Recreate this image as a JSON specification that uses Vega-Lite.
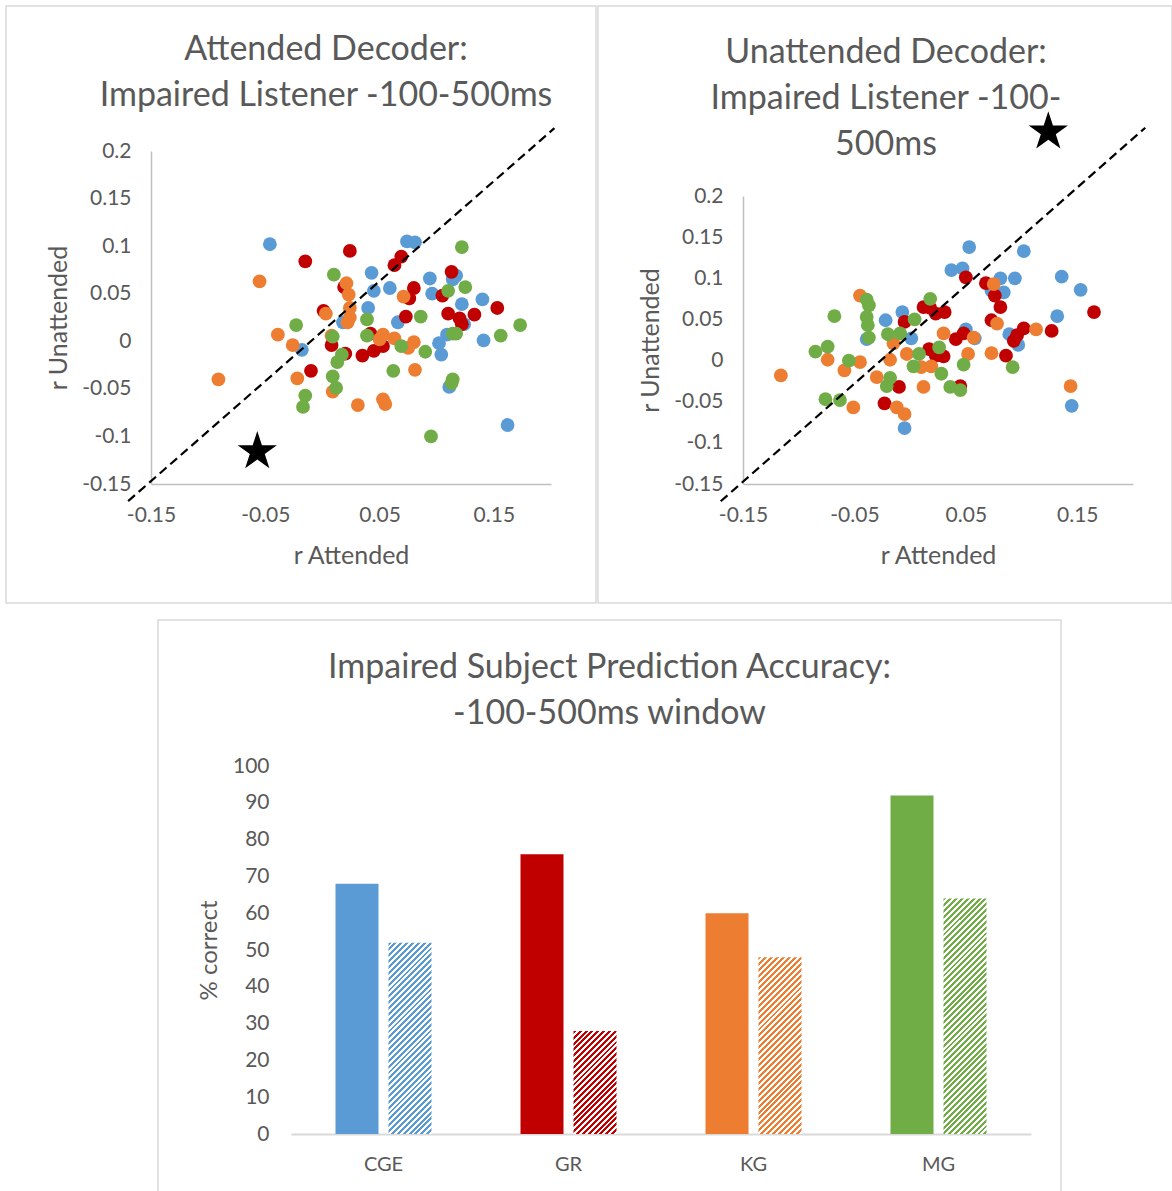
{
"$schema": "https://vega.github.io/schema/vega-lite/v6.json",
"background": "white",
"padding": {"left": 5, "top": 5, "right": 0, "bottom": 0},
"datasets": {
"attended": [
{"subject":"CGE","att":-0.046,"unatt":0.102},{"subject":"CGE","att":0.074,"unatt":0.105},{"subject":"CGE","att":0.081,"unatt":0.104},{"subject":"CGE","att":0.043,"unatt":0.072},{"subject":"CGE","att":0.045,"unatt":0.053},{"subject":"CGE","att":0.040,"unatt":0.035},{"subject":"CGE","att":0.059,"unatt":0.056},{"subject":"CGE","att":0.094,"unatt":0.066},{"subject":"CGE","att":0.096,"unatt":0.050},{"subject":"CGE","att":0.117,"unatt":0.069},{"subject":"CGE","att":0.114,"unatt":0.065},{"subject":"CGE","att":0.122,"unatt":0.039},{"subject":"CGE","att":0.124,"unatt":0.018},{"subject":"CGE","att":0.140,"unatt":0.044},{"subject":"CGE","att":0.141,"unatt":0.001},{"subject":"CGE","att":0.102,"unatt":-0.002},{"subject":"CGE","att":0.104,"unatt":-0.014},{"subject":"CGE","att":0.109,"unatt":0.007},{"subject":"CGE","att":0.066,"unatt":0.020},{"subject":"CGE","att":0.162,"unatt":-0.088},{"subject":"CGE","att":0.111,"unatt":-0.048},{"subject":"CGE","att":-0.018,"unatt":-0.009},{"subject":"CGE","att":0.018,"unatt":0.020},
{"subject":"GR","att":-0.015,"unatt":0.084},{"subject":"GR","att":0.024,"unatt":0.095},{"subject":"GR","att":0.063,"unatt":0.080},{"subject":"GR","att":0.069,"unatt":0.089},{"subject":"GR","att":0.080,"unatt":0.056},{"subject":"GR","att":0.076,"unatt":0.045},{"subject":"GR","att":0.105,"unatt":0.048},{"subject":"GR","att":0.113,"unatt":0.073},{"subject":"GR","att":0.153,"unatt":0.035},{"subject":"GR","att":0.133,"unatt":0.028},{"subject":"GR","att":0.110,"unatt":0.029},{"subject":"GR","att":0.120,"unatt":0.024},{"subject":"GR","att":0.122,"unatt":0.018},{"subject":"GR","att":0.073,"unatt":0.026},{"subject":"GR","att":0.001,"unatt":0.032},{"subject":"GR","att":0.019,"unatt":0.057},{"subject":"GR","att":0.008,"unatt":-0.004},{"subject":"GR","att":0.020,"unatt":-0.013},{"subject":"GR","att":-0.010,"unatt":-0.031},{"subject":"GR","att":0.035,"unatt":-0.015},{"subject":"GR","att":0.045,"unatt":-0.010},{"subject":"GR","att":0.053,"unatt":-0.005},{"subject":"GR","att":0.042,"unatt":0.008},
{"subject":"KG","att":-0.055,"unatt":0.063},{"subject":"KG","att":-0.091,"unatt":-0.040},{"subject":"KG","att":-0.039,"unatt":0.007},{"subject":"KG","att":-0.026,"unatt":-0.004},{"subject":"KG","att":-0.022,"unatt":-0.039},{"subject":"KG","att":0.021,"unatt":0.061},{"subject":"KG","att":0.023,"unatt":0.049},{"subject":"KG","att":0.024,"unatt":0.035},{"subject":"KG","att":0.022,"unatt":0.020},{"subject":"KG","att":0.003,"unatt":0.029},{"subject":"KG","att":0.008,"unatt":0.006},{"subject":"KG","att":0.009,"unatt":-0.053},{"subject":"KG","att":0.031,"unatt":-0.067},{"subject":"KG","att":0.053,"unatt":-0.061},{"subject":"KG","att":0.055,"unatt":-0.066},{"subject":"KG","att":0.050,"unatt":0.002},{"subject":"KG","att":0.053,"unatt":0.007},{"subject":"KG","att":0.063,"unatt":0.003},{"subject":"KG","att":0.071,"unatt":0.047},{"subject":"KG","att":0.075,"unatt":-0.007},{"subject":"KG","att":0.080,"unatt":-0.001},{"subject":"KG","att":0.081,"unatt":-0.030},{"subject":"KG","att":0.024,"unatt":0.025},
{"subject":"MG","att":0.010,"unatt":0.070},{"subject":"MG","att":-0.023,"unatt":0.017},{"subject":"MG","att":0.122,"unatt":0.099},{"subject":"MG","att":0.125,"unatt":0.057},{"subject":"MG","att":0.110,"unatt":0.053},{"subject":"MG","att":0.086,"unatt":0.026},{"subject":"MG","att":0.039,"unatt":0.023},{"subject":"MG","att":0.039,"unatt":0.006},{"subject":"MG","att":0.009,"unatt":0.005},{"subject":"MG","att":0.017,"unatt":-0.014},{"subject":"MG","att":0.013,"unatt":-0.022},{"subject":"MG","att":0.009,"unatt":-0.037},{"subject":"MG","att":0.012,"unatt":-0.049},{"subject":"MG","att":-0.015,"unatt":-0.057},{"subject":"MG","att":-0.017,"unatt":-0.069},{"subject":"MG","att":0.062,"unatt":-0.031},{"subject":"MG","att":0.069,"unatt":-0.005},{"subject":"MG","att":0.090,"unatt":-0.011},{"subject":"MG","att":0.114,"unatt":0.008},{"subject":"MG","att":0.117,"unatt":0.008},{"subject":"MG","att":0.114,"unatt":-0.040},{"subject":"MG","att":0.113,"unatt":-0.044},{"subject":"MG","att":0.156,"unatt":0.006},{"subject":"MG","att":0.173,"unatt":0.017},{"subject":"MG","att":0.095,"unatt":-0.100}
],
"unattended": [
{"subject":"CGE","att":0.053,"unatt":0.138},{"subject":"CGE","att":0.102,"unatt":0.133},{"subject":"CGE","att":0.037,"unatt":0.110},{"subject":"CGE","att":0.047,"unatt":0.112},{"subject":"CGE","att":0.081,"unatt":0.100},{"subject":"CGE","att":0.094,"unatt":0.100},{"subject":"CGE","att":0.073,"unatt":0.085},{"subject":"CGE","att":0.084,"unatt":0.083},{"subject":"CGE","att":0.136,"unatt":0.102},{"subject":"CGE","att":0.153,"unatt":0.086},{"subject":"CGE","att":0.132,"unatt":0.054},{"subject":"CGE","att":0.145,"unatt":-0.055},{"subject":"CGE","att":-0.007,"unatt":0.059},{"subject":"CGE","att":-0.022,"unatt":0.049},{"subject":"CGE","att":0.001,"unatt":0.027},{"subject":"CGE","att":-0.039,"unatt":0.026},{"subject":"CGE","att":-0.005,"unatt":-0.082},{"subject":"CGE","att":0.050,"unatt":0.038},{"subject":"CGE","att":0.058,"unatt":0.027},{"subject":"CGE","att":0.089,"unatt":0.032},{"subject":"CGE","att":0.097,"unatt":0.019},{"subject":"CGE","att":0.093,"unatt":0.030},
{"subject":"GR","att":0.050,"unatt":0.101},{"subject":"GR","att":0.068,"unatt":0.094},{"subject":"GR","att":0.076,"unatt":0.079},{"subject":"GR","att":0.081,"unatt":0.065},{"subject":"GR","att":0.073,"unatt":0.049},{"subject":"GR","att":0.165,"unatt":0.059},{"subject":"GR","att":0.127,"unatt":0.036},{"subject":"GR","att":0.102,"unatt":0.039},{"subject":"GR","att":0.096,"unatt":0.031},{"subject":"GR","att":0.093,"unatt":0.024},{"subject":"GR","att":0.086,"unatt":0.006},{"subject":"GR","att":0.012,"unatt":0.065},{"subject":"GR","att":0.018,"unatt":0.064},{"subject":"GR","att":0.031,"unatt":0.059},{"subject":"GR","att":0.023,"unatt":0.057},{"subject":"GR","att":-0.005,"unatt":0.047},{"subject":"GR","att":0.041,"unatt":0.026},{"subject":"GR","att":0.048,"unatt":0.033},{"subject":"GR","att":0.017,"unatt":0.014},{"subject":"GR","att":0.023,"unatt":0.006},{"subject":"GR","att":0.030,"unatt":0.005},{"subject":"GR","att":-0.010,"unatt":-0.032},{"subject":"GR","att":-0.023,"unatt":-0.052},{"subject":"GR","att":0.045,"unatt":-0.031},
{"subject":"KG","att":-0.116,"unatt":-0.018},{"subject":"KG","att":-0.045,"unatt":0.079},{"subject":"KG","att":-0.074,"unatt":0.001},{"subject":"KG","att":-0.059,"unatt":-0.012},{"subject":"KG","att":-0.045,"unatt":-0.002},{"subject":"KG","att":-0.051,"unatt":-0.057},{"subject":"KG","att":-0.030,"unatt":-0.020},{"subject":"KG","att":-0.018,"unatt":0.001},{"subject":"KG","att":-0.015,"unatt":0.021},{"subject":"KG","att":-0.012,"unatt":-0.057},{"subject":"KG","att":-0.005,"unatt":-0.065},{"subject":"KG","att":-0.003,"unatt":0.008},{"subject":"KG","att":0.010,"unatt":-0.008},{"subject":"KG","att":0.019,"unatt":-0.007},{"subject":"KG","att":0.012,"unatt":-0.032},{"subject":"KG","att":0.030,"unatt":0.033},{"subject":"KG","att":0.057,"unatt":0.028},{"subject":"KG","att":0.052,"unatt":0.008},{"subject":"KG","att":0.073,"unatt":0.009},{"subject":"KG","att":0.078,"unatt":0.045},{"subject":"KG","att":0.075,"unatt":0.093},{"subject":"KG","att":0.113,"unatt":0.038},{"subject":"KG","att":0.144,"unatt":-0.031},
{"subject":"MG","att":-0.068,"unatt":0.054},{"subject":"MG","att":-0.085,"unatt":0.011},{"subject":"MG","att":-0.074,"unatt":0.017},{"subject":"MG","att":-0.055,"unatt":0.000},{"subject":"MG","att":-0.076,"unatt":-0.047},{"subject":"MG","att":-0.063,"unatt":-0.048},{"subject":"MG","att":-0.039,"unatt":0.074},{"subject":"MG","att":-0.037,"unatt":0.067},{"subject":"MG","att":-0.039,"unatt":0.053},{"subject":"MG","att":-0.038,"unatt":0.043},{"subject":"MG","att":-0.037,"unatt":0.028},{"subject":"MG","att":-0.020,"unatt":0.032},{"subject":"MG","att":-0.009,"unatt":0.033},{"subject":"MG","att":0.004,"unatt":0.050},{"subject":"MG","att":0.018,"unatt":0.075},{"subject":"MG","att":0.008,"unatt":0.008},{"subject":"MG","att":0.003,"unatt":-0.007},{"subject":"MG","att":0.026,"unatt":0.016},{"subject":"MG","att":0.028,"unatt":-0.016},{"subject":"MG","att":-0.018,"unatt":-0.021},{"subject":"MG","att":-0.021,"unatt":-0.031},{"subject":"MG","att":0.036,"unatt":-0.032},{"subject":"MG","att":0.045,"unatt":-0.036},{"subject":"MG","att":0.048,"unatt":-0.005},{"subject":"MG","att":0.092,"unatt":-0.008}
],
"accuracy": [
{"subject":"CGE","kind":"solid","pct":68},{"subject":"CGE","kind":"hatched","pct":52},
{"subject":"GR","kind":"solid","pct":76},{"subject":"GR","kind":"hatched","pct":28},
{"subject":"KG","kind":"solid","pct":60},{"subject":"KG","kind":"hatched","pct":48},
{"subject":"MG","kind":"solid","pct":92},{"subject":"MG","kind":"hatched","pct":64}
]
},
"spacing": 15,
"vconcat": [
{"spacing": 2, "bounds": "flush", "hconcat": [
{
"width": 590, "height": 597,
"title": {"text": ["Attended Decoder:", "Impaired Listener -100-500ms"], "dx": 25, "dy": 111},
"encoding": {
"x": {"field": "att", "type": "quantitative", "scale": {"domain": [-0.15, 0.2], "range": [145, 545], "nice": false, "zero": false}, "axis": {"title": "r Attended", "values": [-0.15, -0.05, 0.05, 0.15], "labelExpr": "'' + datum.value", "offset": -119, "labelPadding": 20, "titlePadding": 18}},
"y": {"field": "unatt", "type": "quantitative", "scale": {"domain": [-0.15, 0.2], "range": [478, 145], "nice": false, "zero": false}, "axis": {"title": "r Unattended", "values": [-0.15, -0.1, -0.05, 0, 0.05, 0.1, 0.15, 0.2], "labelExpr": "'' + datum.value", "offset": -145, "labelPadding": 20, "titlePadding": 10}}
},
"layer": [
{"data": {"name": "attended"}, "mark": {"type": "circle", "size": 190, "opacity": 1}, "encoding": {"color": {"field": "subject", "type": "nominal", "scale": {"domain": ["CGE", "GR", "KG", "MG"], "range": ["#5B9BD5", "#C00000", "#ED7D31", "#70AD47"]}, "legend": null}}},
{"data": {"values": [{"att": -0.17, "unatt": -0.168}, {"att": 0.203, "unatt": 0.224}]}, "mark": {"type": "line", "color": "black", "strokeDash": [9, 5], "strokeWidth": 2.2}, "encoding": {}},
{"data": {"values": [{"att": -0.057, "unatt": -0.116}]}, "mark": {"type": "point", "shape": "M0,-1L0.2245,-0.309L0.951,-0.309L0.363,0.118L0.588,0.809L0,0.382L-0.588,0.809L-0.363,0.118L-0.951,-0.309L-0.2245,-0.309Z", "filled": true, "color": "black", "size": 1700, "opacity": 1}}
]
},
{
"width": 574, "height": 597,
"title": {"text": ["Unattended Decoder:", "Impaired Listener -100-", "500ms"], "dx": 1, "dy": 160},
"encoding": {
"x": {"field": "att", "type": "quantitative", "scale": {"domain": [-0.15, 0.2], "range": [145, 535], "nice": false, "zero": false}, "axis": {"title": "r Attended", "values": [-0.15, -0.05, 0.05, 0.15], "labelExpr": "'' + datum.value", "offset": -119, "labelPadding": 20, "titlePadding": 18}},
"y": {"field": "unatt", "type": "quantitative", "scale": {"domain": [-0.15, 0.2], "range": [478, 190], "nice": false, "zero": false}, "axis": {"title": "r Unattended", "values": [-0.15, -0.1, -0.05, 0, 0.05, 0.1, 0.15, 0.2], "labelExpr": "'' + datum.value", "offset": -145, "labelPadding": 20, "titlePadding": 10}}
},
"layer": [
{"data": {"name": "unattended"}, "mark": {"type": "circle", "size": 190, "opacity": 1}, "encoding": {"color": {"field": "subject", "type": "nominal", "scale": {"domain": ["CGE", "GR", "KG", "MG"], "range": ["#5B9BD5", "#C00000", "#ED7D31", "#70AD47"]}, "legend": null}}},
{"data": {"values": [{"att": -0.17, "unatt": -0.171}, {"att": 0.211, "unatt": 0.283}]}, "mark": {"type": "line", "color": "black", "strokeDash": [9, 5], "strokeWidth": 2.2}, "encoding": {}},
{"data": {"values": [{"att": 0.124, "unatt": 0.278}]}, "mark": {"type": "point", "shape": "M0,-1L0.2245,-0.309L0.951,-0.309L0.363,0.118L0.588,0.809L0,0.382L-0.588,0.809L-0.363,0.118L-0.951,-0.309L-0.2245,-0.309Z", "filled": true, "color": "black", "size": 1700, "opacity": 1}}
]
}
]},
{"spacing": 10, "bounds": "flush", "hconcat": [
{"width": 142, "height": 10, "data": {"values": [{}]}, "mark": {"type": "point", "opacity": 0}, "view": {"stroke": null}},
{
"width": 903, "height": 573,
"data": {"name": "accuracy"},
"title": {"text": ["Impaired Subject Prediction Accuracy:", "-100-500ms window"], "dx": 0, "dy": 115},
"encoding": {
"x": {"field": "subject", "type": "nominal", "sort": ["CGE", "GR", "KG", "MG"], "scale": {"domain": ["CGE", "GR", "KG", "MG"], "range": [133, 873], "paddingInner": 0, "paddingOuter": 0}, "axis": {"title": null, "labelAngle": 0, "offset": -59, "labelPadding": 20, "labelFontSize": 20, "domainColor": "#D9D9D9", "domainWidth": 2}},
"xOffset": {"field": "kind", "type": "nominal", "scale": {"domain": ["solid", "hatched"], "paddingInner": 0.18868, "paddingOuter": 0.8396}},
"y": {"field": "pct", "type": "quantitative", "scale": {"domain": [0, 100], "range": [514, 146], "nice": false, "zero": false}, "axis": {"title": "% correct", "titleFontSize": 24, "values": [0, 10, 20, 30, 40, 50, 60, 70, 80, 90, 100], "domain": false, "offset": -133, "labelPadding": 22, "titlePadding": 11}}
},
"layer": [
{"transform": [{"filter": "datum.kind == 'solid'"}], "mark": {"type": "bar"}, "encoding": {"color": {"field": "subject", "type": "nominal", "scale": {"domain": ["CGE", "GR", "KG", "MG"], "range": ["#5B9BD5", "#C00000", "#ED7D31", "#70AD47"]}, "legend": null}}},
{"transform": [{"filter": "datum.kind == 'hatched' && datum.subject == 'CGE'"}], "mark": {"type": "bar", "fill": {"gradient": "linear", "x1": 0, "y1": 0, "x2": 0.262, "y2": 1.1659, "stops": [
{"offset":0,"color":"#5B9BD5"},{"offset":0.0125,"color":"#5B9BD5"},{"offset":0.0125,"color":"#fff"},{"offset":0.025,"color":"#fff"},
{"offset":0.025,"color":"#5B9BD5"},{"offset":0.0375,"color":"#5B9BD5"},{"offset":0.0375,"color":"#fff"},{"offset":0.05,"color":"#fff"},
{"offset":0.05,"color":"#5B9BD5"},{"offset":0.0625,"color":"#5B9BD5"},{"offset":0.0625,"color":"#fff"},{"offset":0.075,"color":"#fff"},
{"offset":0.075,"color":"#5B9BD5"},{"offset":0.0875,"color":"#5B9BD5"},{"offset":0.0875,"color":"#fff"},{"offset":0.1,"color":"#fff"},
{"offset":0.1,"color":"#5B9BD5"},{"offset":0.1125,"color":"#5B9BD5"},{"offset":0.1125,"color":"#fff"},{"offset":0.125,"color":"#fff"},
{"offset":0.125,"color":"#5B9BD5"},{"offset":0.1375,"color":"#5B9BD5"},{"offset":0.1375,"color":"#fff"},{"offset":0.15,"color":"#fff"},
{"offset":0.15,"color":"#5B9BD5"},{"offset":0.1625,"color":"#5B9BD5"},{"offset":0.1625,"color":"#fff"},{"offset":0.175,"color":"#fff"},
{"offset":0.175,"color":"#5B9BD5"},{"offset":0.1875,"color":"#5B9BD5"},{"offset":0.1875,"color":"#fff"},{"offset":0.2,"color":"#fff"},
{"offset":0.2,"color":"#5B9BD5"},{"offset":0.2125,"color":"#5B9BD5"},{"offset":0.2125,"color":"#fff"},{"offset":0.225,"color":"#fff"},
{"offset":0.225,"color":"#5B9BD5"},{"offset":0.2375,"color":"#5B9BD5"},{"offset":0.2375,"color":"#fff"},{"offset":0.25,"color":"#fff"},
{"offset":0.25,"color":"#5B9BD5"},{"offset":0.2625,"color":"#5B9BD5"},{"offset":0.2625,"color":"#fff"},{"offset":0.275,"color":"#fff"},
{"offset":0.275,"color":"#5B9BD5"},{"offset":0.2875,"color":"#5B9BD5"},{"offset":0.2875,"color":"#fff"},{"offset":0.3,"color":"#fff"},
{"offset":0.3,"color":"#5B9BD5"},{"offset":0.3125,"color":"#5B9BD5"},{"offset":0.3125,"color":"#fff"},{"offset":0.325,"color":"#fff"},
{"offset":0.325,"color":"#5B9BD5"},{"offset":0.3375,"color":"#5B9BD5"},{"offset":0.3375,"color":"#fff"},{"offset":0.35,"color":"#fff"},
{"offset":0.35,"color":"#5B9BD5"},{"offset":0.3625,"color":"#5B9BD5"},{"offset":0.3625,"color":"#fff"},{"offset":0.375,"color":"#fff"},
{"offset":0.375,"color":"#5B9BD5"},{"offset":0.3875,"color":"#5B9BD5"},{"offset":0.3875,"color":"#fff"},{"offset":0.4,"color":"#fff"},
{"offset":0.4,"color":"#5B9BD5"},{"offset":0.4125,"color":"#5B9BD5"},{"offset":0.4125,"color":"#fff"},{"offset":0.425,"color":"#fff"},
{"offset":0.425,"color":"#5B9BD5"},{"offset":0.4375,"color":"#5B9BD5"},{"offset":0.4375,"color":"#fff"},{"offset":0.45,"color":"#fff"},
{"offset":0.45,"color":"#5B9BD5"},{"offset":0.4625,"color":"#5B9BD5"},{"offset":0.4625,"color":"#fff"},{"offset":0.475,"color":"#fff"},
{"offset":0.475,"color":"#5B9BD5"},{"offset":0.4875,"color":"#5B9BD5"},{"offset":0.4875,"color":"#fff"},{"offset":0.5,"color":"#fff"},
{"offset":0.5,"color":"#5B9BD5"},{"offset":0.5125,"color":"#5B9BD5"},{"offset":0.5125,"color":"#fff"},{"offset":0.525,"color":"#fff"},
{"offset":0.525,"color":"#5B9BD5"},{"offset":0.5375,"color":"#5B9BD5"},{"offset":0.5375,"color":"#fff"},{"offset":0.55,"color":"#fff"},
{"offset":0.55,"color":"#5B9BD5"},{"offset":0.5625,"color":"#5B9BD5"},{"offset":0.5625,"color":"#fff"},{"offset":0.575,"color":"#fff"},
{"offset":0.575,"color":"#5B9BD5"},{"offset":0.5875,"color":"#5B9BD5"},{"offset":0.5875,"color":"#fff"},{"offset":0.6,"color":"#fff"},
{"offset":0.6,"color":"#5B9BD5"},{"offset":0.6125,"color":"#5B9BD5"},{"offset":0.6125,"color":"#fff"},{"offset":0.625,"color":"#fff"},
{"offset":0.625,"color":"#5B9BD5"},{"offset":0.6375,"color":"#5B9BD5"},{"offset":0.6375,"color":"#fff"},{"offset":0.65,"color":"#fff"},
{"offset":0.65,"color":"#5B9BD5"},{"offset":0.6625,"color":"#5B9BD5"},{"offset":0.6625,"color":"#fff"},{"offset":0.675,"color":"#fff"},
{"offset":0.675,"color":"#5B9BD5"},{"offset":0.6875,"color":"#5B9BD5"},{"offset":0.6875,"color":"#fff"},{"offset":0.7,"color":"#fff"},
{"offset":0.7,"color":"#5B9BD5"},{"offset":0.7125,"color":"#5B9BD5"},{"offset":0.7125,"color":"#fff"},{"offset":0.725,"color":"#fff"},
{"offset":0.725,"color":"#5B9BD5"},{"offset":0.7375,"color":"#5B9BD5"},{"offset":0.7375,"color":"#fff"},{"offset":0.75,"color":"#fff"},
{"offset":0.75,"color":"#5B9BD5"},{"offset":0.7625,"color":"#5B9BD5"},{"offset":0.7625,"color":"#fff"},{"offset":0.775,"color":"#fff"},
{"offset":0.775,"color":"#5B9BD5"},{"offset":0.7875,"color":"#5B9BD5"},{"offset":0.7875,"color":"#fff"},{"offset":0.8,"color":"#fff"},
{"offset":0.8,"color":"#5B9BD5"},{"offset":0.8125,"color":"#5B9BD5"},{"offset":0.8125,"color":"#fff"},{"offset":0.825,"color":"#fff"},
{"offset":0.825,"color":"#5B9BD5"},{"offset":0.8375,"color":"#5B9BD5"},{"offset":0.8375,"color":"#fff"},{"offset":0.85,"color":"#fff"},
{"offset":0.85,"color":"#5B9BD5"},{"offset":0.8625,"color":"#5B9BD5"},{"offset":0.8625,"color":"#fff"},{"offset":0.875,"color":"#fff"},
{"offset":0.875,"color":"#5B9BD5"},{"offset":0.8875,"color":"#5B9BD5"},{"offset":0.8875,"color":"#fff"},{"offset":0.9,"color":"#fff"},
{"offset":0.9,"color":"#5B9BD5"},{"offset":0.9125,"color":"#5B9BD5"},{"offset":0.9125,"color":"#fff"},{"offset":0.925,"color":"#fff"},
{"offset":0.925,"color":"#5B9BD5"},{"offset":0.9375,"color":"#5B9BD5"},{"offset":0.9375,"color":"#fff"},{"offset":0.95,"color":"#fff"},
{"offset":0.95,"color":"#5B9BD5"},{"offset":0.9625,"color":"#5B9BD5"},{"offset":0.9625,"color":"#fff"},{"offset":0.975,"color":"#fff"},
{"offset":0.975,"color":"#5B9BD5"},{"offset":0.9875,"color":"#5B9BD5"},{"offset":0.9875,"color":"#fff"},{"offset":1,"color":"#fff"}
]}}},
{"transform": [{"filter": "datum.kind == 'hatched' && datum.subject == 'GR'"}], "mark": {"type": "bar", "fill": {"gradient": "linear", "x1": 0, "y1": 0, "x2": 0.5037, "y2": 1.2071, "stops": [
{"offset":0,"color":"#C00000"},{"offset":0.02,"color":"#C00000"},{"offset":0.02,"color":"#fff"},{"offset":0.04,"color":"#fff"},
{"offset":0.04,"color":"#C00000"},{"offset":0.06,"color":"#C00000"},{"offset":0.06,"color":"#fff"},{"offset":0.08,"color":"#fff"},
{"offset":0.08,"color":"#C00000"},{"offset":0.1,"color":"#C00000"},{"offset":0.1,"color":"#fff"},{"offset":0.12,"color":"#fff"},
{"offset":0.12,"color":"#C00000"},{"offset":0.14,"color":"#C00000"},{"offset":0.14,"color":"#fff"},{"offset":0.16,"color":"#fff"},
{"offset":0.16,"color":"#C00000"},{"offset":0.18,"color":"#C00000"},{"offset":0.18,"color":"#fff"},{"offset":0.2,"color":"#fff"},
{"offset":0.2,"color":"#C00000"},{"offset":0.22,"color":"#C00000"},{"offset":0.22,"color":"#fff"},{"offset":0.24,"color":"#fff"},
{"offset":0.24,"color":"#C00000"},{"offset":0.26,"color":"#C00000"},{"offset":0.26,"color":"#fff"},{"offset":0.28,"color":"#fff"},
{"offset":0.28,"color":"#C00000"},{"offset":0.3,"color":"#C00000"},{"offset":0.3,"color":"#fff"},{"offset":0.32,"color":"#fff"},
{"offset":0.32,"color":"#C00000"},{"offset":0.34,"color":"#C00000"},{"offset":0.34,"color":"#fff"},{"offset":0.36,"color":"#fff"},
{"offset":0.36,"color":"#C00000"},{"offset":0.38,"color":"#C00000"},{"offset":0.38,"color":"#fff"},{"offset":0.4,"color":"#fff"},
{"offset":0.4,"color":"#C00000"},{"offset":0.42,"color":"#C00000"},{"offset":0.42,"color":"#fff"},{"offset":0.44,"color":"#fff"},
{"offset":0.44,"color":"#C00000"},{"offset":0.46,"color":"#C00000"},{"offset":0.46,"color":"#fff"},{"offset":0.48,"color":"#fff"},
{"offset":0.48,"color":"#C00000"},{"offset":0.5,"color":"#C00000"},{"offset":0.5,"color":"#fff"},{"offset":0.52,"color":"#fff"},
{"offset":0.52,"color":"#C00000"},{"offset":0.54,"color":"#C00000"},{"offset":0.54,"color":"#fff"},{"offset":0.56,"color":"#fff"},
{"offset":0.56,"color":"#C00000"},{"offset":0.58,"color":"#C00000"},{"offset":0.58,"color":"#fff"},{"offset":0.6,"color":"#fff"},
{"offset":0.6,"color":"#C00000"},{"offset":0.62,"color":"#C00000"},{"offset":0.62,"color":"#fff"},{"offset":0.64,"color":"#fff"},
{"offset":0.64,"color":"#C00000"},{"offset":0.66,"color":"#C00000"},{"offset":0.66,"color":"#fff"},{"offset":0.68,"color":"#fff"},
{"offset":0.68,"color":"#C00000"},{"offset":0.7,"color":"#C00000"},{"offset":0.7,"color":"#fff"},{"offset":0.72,"color":"#fff"},
{"offset":0.72,"color":"#C00000"},{"offset":0.74,"color":"#C00000"},{"offset":0.74,"color":"#fff"},{"offset":0.76,"color":"#fff"},
{"offset":0.76,"color":"#C00000"},{"offset":0.78,"color":"#C00000"},{"offset":0.78,"color":"#fff"},{"offset":0.8,"color":"#fff"},
{"offset":0.8,"color":"#C00000"},{"offset":0.82,"color":"#C00000"},{"offset":0.82,"color":"#fff"},{"offset":0.84,"color":"#fff"},
{"offset":0.84,"color":"#C00000"},{"offset":0.86,"color":"#C00000"},{"offset":0.86,"color":"#fff"},{"offset":0.88,"color":"#fff"},
{"offset":0.88,"color":"#C00000"},{"offset":0.9,"color":"#C00000"},{"offset":0.9,"color":"#fff"},{"offset":0.92,"color":"#fff"},
{"offset":0.92,"color":"#C00000"},{"offset":0.94,"color":"#C00000"},{"offset":0.94,"color":"#fff"},{"offset":0.96,"color":"#fff"},
{"offset":0.96,"color":"#C00000"},{"offset":0.98,"color":"#C00000"},{"offset":0.98,"color":"#fff"},{"offset":1,"color":"#fff"}
]}}},
{"transform": [{"filter": "datum.kind == 'hatched' && datum.subject == 'KG'"}], "mark": {"type": "bar", "fill": {"gradient": "linear", "x1": 0, "y1": 0, "x2": 0.2858, "y2": 1.1739, "stops": [
{"offset":0,"color":"#ED7D31"},{"offset":0.0135,"color":"#ED7D31"},{"offset":0.0135,"color":"#fff"},{"offset":0.027,"color":"#fff"},
{"offset":0.027,"color":"#ED7D31"},{"offset":0.0405,"color":"#ED7D31"},{"offset":0.0405,"color":"#fff"},{"offset":0.054,"color":"#fff"},
{"offset":0.054,"color":"#ED7D31"},{"offset":0.0675,"color":"#ED7D31"},{"offset":0.0675,"color":"#fff"},{"offset":0.081,"color":"#fff"},
{"offset":0.081,"color":"#ED7D31"},{"offset":0.0945,"color":"#ED7D31"},{"offset":0.0945,"color":"#fff"},{"offset":0.108,"color":"#fff"},
{"offset":0.108,"color":"#ED7D31"},{"offset":0.1215,"color":"#ED7D31"},{"offset":0.1215,"color":"#fff"},{"offset":0.135,"color":"#fff"},
{"offset":0.135,"color":"#ED7D31"},{"offset":0.1485,"color":"#ED7D31"},{"offset":0.1485,"color":"#fff"},{"offset":0.162,"color":"#fff"},
{"offset":0.162,"color":"#ED7D31"},{"offset":0.1755,"color":"#ED7D31"},{"offset":0.1755,"color":"#fff"},{"offset":0.189,"color":"#fff"},
{"offset":0.189,"color":"#ED7D31"},{"offset":0.2025,"color":"#ED7D31"},{"offset":0.2025,"color":"#fff"},{"offset":0.216,"color":"#fff"},
{"offset":0.216,"color":"#ED7D31"},{"offset":0.2295,"color":"#ED7D31"},{"offset":0.2295,"color":"#fff"},{"offset":0.243,"color":"#fff"},
{"offset":0.243,"color":"#ED7D31"},{"offset":0.2565,"color":"#ED7D31"},{"offset":0.2565,"color":"#fff"},{"offset":0.27,"color":"#fff"},
{"offset":0.27,"color":"#ED7D31"},{"offset":0.2835,"color":"#ED7D31"},{"offset":0.2835,"color":"#fff"},{"offset":0.297,"color":"#fff"},
{"offset":0.297,"color":"#ED7D31"},{"offset":0.3105,"color":"#ED7D31"},{"offset":0.3105,"color":"#fff"},{"offset":0.324,"color":"#fff"},
{"offset":0.324,"color":"#ED7D31"},{"offset":0.3375,"color":"#ED7D31"},{"offset":0.3375,"color":"#fff"},{"offset":0.351,"color":"#fff"},
{"offset":0.351,"color":"#ED7D31"},{"offset":0.3645,"color":"#ED7D31"},{"offset":0.3645,"color":"#fff"},{"offset":0.378,"color":"#fff"},
{"offset":0.378,"color":"#ED7D31"},{"offset":0.3915,"color":"#ED7D31"},{"offset":0.3915,"color":"#fff"},{"offset":0.405,"color":"#fff"},
{"offset":0.405,"color":"#ED7D31"},{"offset":0.4185,"color":"#ED7D31"},{"offset":0.4185,"color":"#fff"},{"offset":0.432,"color":"#fff"},
{"offset":0.432,"color":"#ED7D31"},{"offset":0.4455,"color":"#ED7D31"},{"offset":0.4455,"color":"#fff"},{"offset":0.459,"color":"#fff"},
{"offset":0.459,"color":"#ED7D31"},{"offset":0.4725,"color":"#ED7D31"},{"offset":0.4725,"color":"#fff"},{"offset":0.486,"color":"#fff"},
{"offset":0.486,"color":"#ED7D31"},{"offset":0.4995,"color":"#ED7D31"},{"offset":0.4995,"color":"#fff"},{"offset":0.513,"color":"#fff"},
{"offset":0.513,"color":"#ED7D31"},{"offset":0.5265,"color":"#ED7D31"},{"offset":0.5265,"color":"#fff"},{"offset":0.54,"color":"#fff"},
{"offset":0.54,"color":"#ED7D31"},{"offset":0.5535,"color":"#ED7D31"},{"offset":0.5535,"color":"#fff"},{"offset":0.567,"color":"#fff"},
{"offset":0.567,"color":"#ED7D31"},{"offset":0.5805,"color":"#ED7D31"},{"offset":0.5805,"color":"#fff"},{"offset":0.594,"color":"#fff"},
{"offset":0.594,"color":"#ED7D31"},{"offset":0.6075,"color":"#ED7D31"},{"offset":0.6075,"color":"#fff"},{"offset":0.621,"color":"#fff"},
{"offset":0.621,"color":"#ED7D31"},{"offset":0.6345,"color":"#ED7D31"},{"offset":0.6345,"color":"#fff"},{"offset":0.648,"color":"#fff"},
{"offset":0.648,"color":"#ED7D31"},{"offset":0.6615,"color":"#ED7D31"},{"offset":0.6615,"color":"#fff"},{"offset":0.675,"color":"#fff"},
{"offset":0.675,"color":"#ED7D31"},{"offset":0.6885,"color":"#ED7D31"},{"offset":0.6885,"color":"#fff"},{"offset":0.702,"color":"#fff"},
{"offset":0.702,"color":"#ED7D31"},{"offset":0.7155,"color":"#ED7D31"},{"offset":0.7155,"color":"#fff"},{"offset":0.729,"color":"#fff"},
{"offset":0.729,"color":"#ED7D31"},{"offset":0.7425,"color":"#ED7D31"},{"offset":0.7425,"color":"#fff"},{"offset":0.756,"color":"#fff"},
{"offset":0.756,"color":"#ED7D31"},{"offset":0.7695,"color":"#ED7D31"},{"offset":0.7695,"color":"#fff"},{"offset":0.783,"color":"#fff"},
{"offset":0.783,"color":"#ED7D31"},{"offset":0.7965,"color":"#ED7D31"},{"offset":0.7965,"color":"#fff"},{"offset":0.81,"color":"#fff"},
{"offset":0.81,"color":"#ED7D31"},{"offset":0.8235,"color":"#ED7D31"},{"offset":0.8235,"color":"#fff"},{"offset":0.837,"color":"#fff"},
{"offset":0.837,"color":"#ED7D31"},{"offset":0.8505,"color":"#ED7D31"},{"offset":0.8505,"color":"#fff"},{"offset":0.864,"color":"#fff"},
{"offset":0.864,"color":"#ED7D31"},{"offset":0.8775,"color":"#ED7D31"},{"offset":0.8775,"color":"#fff"},{"offset":0.891,"color":"#fff"},
{"offset":0.891,"color":"#ED7D31"},{"offset":0.9045,"color":"#ED7D31"},{"offset":0.9045,"color":"#fff"},{"offset":0.918,"color":"#fff"},
{"offset":0.918,"color":"#ED7D31"},{"offset":0.9315,"color":"#ED7D31"},{"offset":0.9315,"color":"#fff"},{"offset":0.945,"color":"#fff"},
{"offset":0.945,"color":"#ED7D31"},{"offset":0.9585,"color":"#ED7D31"},{"offset":0.9585,"color":"#fff"},{"offset":0.972,"color":"#fff"},
{"offset":0.972,"color":"#ED7D31"},{"offset":0.9855,"color":"#ED7D31"},{"offset":0.9855,"color":"#fff"},{"offset":0.999,"color":"#fff"},
{"offset":0.999,"color":"#ED7D31"},{"offset":1,"color":"#ED7D31"}
]}}},
{"transform": [{"filter": "datum.kind == 'hatched' && datum.subject == 'MG'"}], "mark": {"type": "bar", "fill": {"gradient": "linear", "x1": 0, "y1": 0, "x2": 0.2089, "y2": 1.1444, "stops": [
{"offset":0,"color":"#70AD47"},{"offset":0.0105,"color":"#70AD47"},{"offset":0.0105,"color":"#fff"},{"offset":0.021,"color":"#fff"},
{"offset":0.021,"color":"#70AD47"},{"offset":0.0315,"color":"#70AD47"},{"offset":0.0315,"color":"#fff"},{"offset":0.042,"color":"#fff"},
{"offset":0.042,"color":"#70AD47"},{"offset":0.0525,"color":"#70AD47"},{"offset":0.0525,"color":"#fff"},{"offset":0.063,"color":"#fff"},
{"offset":0.063,"color":"#70AD47"},{"offset":0.0735,"color":"#70AD47"},{"offset":0.0735,"color":"#fff"},{"offset":0.084,"color":"#fff"},
{"offset":0.084,"color":"#70AD47"},{"offset":0.0945,"color":"#70AD47"},{"offset":0.0945,"color":"#fff"},{"offset":0.105,"color":"#fff"},
{"offset":0.105,"color":"#70AD47"},{"offset":0.1155,"color":"#70AD47"},{"offset":0.1155,"color":"#fff"},{"offset":0.126,"color":"#fff"},
{"offset":0.126,"color":"#70AD47"},{"offset":0.1365,"color":"#70AD47"},{"offset":0.1365,"color":"#fff"},{"offset":0.147,"color":"#fff"},
{"offset":0.147,"color":"#70AD47"},{"offset":0.1575,"color":"#70AD47"},{"offset":0.1575,"color":"#fff"},{"offset":0.168,"color":"#fff"},
{"offset":0.168,"color":"#70AD47"},{"offset":0.1785,"color":"#70AD47"},{"offset":0.1785,"color":"#fff"},{"offset":0.189,"color":"#fff"},
{"offset":0.189,"color":"#70AD47"},{"offset":0.1995,"color":"#70AD47"},{"offset":0.1995,"color":"#fff"},{"offset":0.21,"color":"#fff"},
{"offset":0.21,"color":"#70AD47"},{"offset":0.2205,"color":"#70AD47"},{"offset":0.2205,"color":"#fff"},{"offset":0.231,"color":"#fff"},
{"offset":0.231,"color":"#70AD47"},{"offset":0.2415,"color":"#70AD47"},{"offset":0.2415,"color":"#fff"},{"offset":0.252,"color":"#fff"},
{"offset":0.252,"color":"#70AD47"},{"offset":0.2625,"color":"#70AD47"},{"offset":0.2625,"color":"#fff"},{"offset":0.273,"color":"#fff"},
{"offset":0.273,"color":"#70AD47"},{"offset":0.2835,"color":"#70AD47"},{"offset":0.2835,"color":"#fff"},{"offset":0.294,"color":"#fff"},
{"offset":0.294,"color":"#70AD47"},{"offset":0.3045,"color":"#70AD47"},{"offset":0.3045,"color":"#fff"},{"offset":0.315,"color":"#fff"},
{"offset":0.315,"color":"#70AD47"},{"offset":0.3255,"color":"#70AD47"},{"offset":0.3255,"color":"#fff"},{"offset":0.336,"color":"#fff"},
{"offset":0.336,"color":"#70AD47"},{"offset":0.3465,"color":"#70AD47"},{"offset":0.3465,"color":"#fff"},{"offset":0.357,"color":"#fff"},
{"offset":0.357,"color":"#70AD47"},{"offset":0.3675,"color":"#70AD47"},{"offset":0.3675,"color":"#fff"},{"offset":0.378,"color":"#fff"},
{"offset":0.378,"color":"#70AD47"},{"offset":0.3885,"color":"#70AD47"},{"offset":0.3885,"color":"#fff"},{"offset":0.399,"color":"#fff"},
{"offset":0.399,"color":"#70AD47"},{"offset":0.4095,"color":"#70AD47"},{"offset":0.4095,"color":"#fff"},{"offset":0.42,"color":"#fff"},
{"offset":0.42,"color":"#70AD47"},{"offset":0.4305,"color":"#70AD47"},{"offset":0.4305,"color":"#fff"},{"offset":0.441,"color":"#fff"},
{"offset":0.441,"color":"#70AD47"},{"offset":0.4515,"color":"#70AD47"},{"offset":0.4515,"color":"#fff"},{"offset":0.462,"color":"#fff"},
{"offset":0.462,"color":"#70AD47"},{"offset":0.4725,"color":"#70AD47"},{"offset":0.4725,"color":"#fff"},{"offset":0.483,"color":"#fff"},
{"offset":0.483,"color":"#70AD47"},{"offset":0.4935,"color":"#70AD47"},{"offset":0.4935,"color":"#fff"},{"offset":0.504,"color":"#fff"},
{"offset":0.504,"color":"#70AD47"},{"offset":0.5145,"color":"#70AD47"},{"offset":0.5145,"color":"#fff"},{"offset":0.525,"color":"#fff"},
{"offset":0.525,"color":"#70AD47"},{"offset":0.5355,"color":"#70AD47"},{"offset":0.5355,"color":"#fff"},{"offset":0.546,"color":"#fff"},
{"offset":0.546,"color":"#70AD47"},{"offset":0.5565,"color":"#70AD47"},{"offset":0.5565,"color":"#fff"},{"offset":0.567,"color":"#fff"},
{"offset":0.567,"color":"#70AD47"},{"offset":0.5775,"color":"#70AD47"},{"offset":0.5775,"color":"#fff"},{"offset":0.588,"color":"#fff"},
{"offset":0.588,"color":"#70AD47"},{"offset":0.5985,"color":"#70AD47"},{"offset":0.5985,"color":"#fff"},{"offset":0.609,"color":"#fff"},
{"offset":0.609,"color":"#70AD47"},{"offset":0.6195,"color":"#70AD47"},{"offset":0.6195,"color":"#fff"},{"offset":0.63,"color":"#fff"},
{"offset":0.63,"color":"#70AD47"},{"offset":0.6405,"color":"#70AD47"},{"offset":0.6405,"color":"#fff"},{"offset":0.651,"color":"#fff"},
{"offset":0.651,"color":"#70AD47"},{"offset":0.6615,"color":"#70AD47"},{"offset":0.6615,"color":"#fff"},{"offset":0.672,"color":"#fff"},
{"offset":0.672,"color":"#70AD47"},{"offset":0.6825,"color":"#70AD47"},{"offset":0.6825,"color":"#fff"},{"offset":0.693,"color":"#fff"},
{"offset":0.693,"color":"#70AD47"},{"offset":0.7035,"color":"#70AD47"},{"offset":0.7035,"color":"#fff"},{"offset":0.714,"color":"#fff"},
{"offset":0.714,"color":"#70AD47"},{"offset":0.7245,"color":"#70AD47"},{"offset":0.7245,"color":"#fff"},{"offset":0.735,"color":"#fff"},
{"offset":0.735,"color":"#70AD47"},{"offset":0.7455,"color":"#70AD47"},{"offset":0.7455,"color":"#fff"},{"offset":0.756,"color":"#fff"},
{"offset":0.756,"color":"#70AD47"},{"offset":0.7665,"color":"#70AD47"},{"offset":0.7665,"color":"#fff"},{"offset":0.777,"color":"#fff"},
{"offset":0.777,"color":"#70AD47"},{"offset":0.7875,"color":"#70AD47"},{"offset":0.7875,"color":"#fff"},{"offset":0.798,"color":"#fff"},
{"offset":0.798,"color":"#70AD47"},{"offset":0.8085,"color":"#70AD47"},{"offset":0.8085,"color":"#fff"},{"offset":0.819,"color":"#fff"},
{"offset":0.819,"color":"#70AD47"},{"offset":0.8295,"color":"#70AD47"},{"offset":0.8295,"color":"#fff"},{"offset":0.84,"color":"#fff"},
{"offset":0.84,"color":"#70AD47"},{"offset":0.8505,"color":"#70AD47"},{"offset":0.8505,"color":"#fff"},{"offset":0.861,"color":"#fff"},
{"offset":0.861,"color":"#70AD47"},{"offset":0.8715,"color":"#70AD47"},{"offset":0.8715,"color":"#fff"},{"offset":0.882,"color":"#fff"},
{"offset":0.882,"color":"#70AD47"},{"offset":0.8925,"color":"#70AD47"},{"offset":0.8925,"color":"#fff"},{"offset":0.903,"color":"#fff"},
{"offset":0.903,"color":"#70AD47"},{"offset":0.9135,"color":"#70AD47"},{"offset":0.9135,"color":"#fff"},{"offset":0.924,"color":"#fff"},
{"offset":0.924,"color":"#70AD47"},{"offset":0.9345,"color":"#70AD47"},{"offset":0.9345,"color":"#fff"},{"offset":0.945,"color":"#fff"},
{"offset":0.945,"color":"#70AD47"},{"offset":0.9555,"color":"#70AD47"},{"offset":0.9555,"color":"#fff"},{"offset":0.966,"color":"#fff"},
{"offset":0.966,"color":"#70AD47"},{"offset":0.9765,"color":"#70AD47"},{"offset":0.9765,"color":"#fff"},{"offset":0.987,"color":"#fff"},
{"offset":0.987,"color":"#70AD47"},{"offset":0.9975,"color":"#70AD47"},{"offset":0.9975,"color":"#fff"},{"offset":1,"color":"#fff"}
]}}}
]
}
]}
],
"config": {
"font": "Lato",
"view": {"stroke": "#D9D9D9", "strokeWidth": 1.5},
"axis": {"domainColor": "#BFBFBF", "domainWidth": 1.5, "ticks": false, "tickSize": 0, "grid": false, "labelFont": "Lato", "labelFontSize": 21, "labelColor": "#595959", "titleFont": "Lato", "titleFontSize": 25, "titleColor": "#595959", "titleFontWeight": "normal", "labelFlush": false, "labelOverlap": false},
"title": {"font": "Lato", "fontSize": 34, "fontWeight": "normal", "color": "#595959", "anchor": "middle", "frame": "group", "offset": 0, "baseline": "top", "lineHeight": 46}
}
}
